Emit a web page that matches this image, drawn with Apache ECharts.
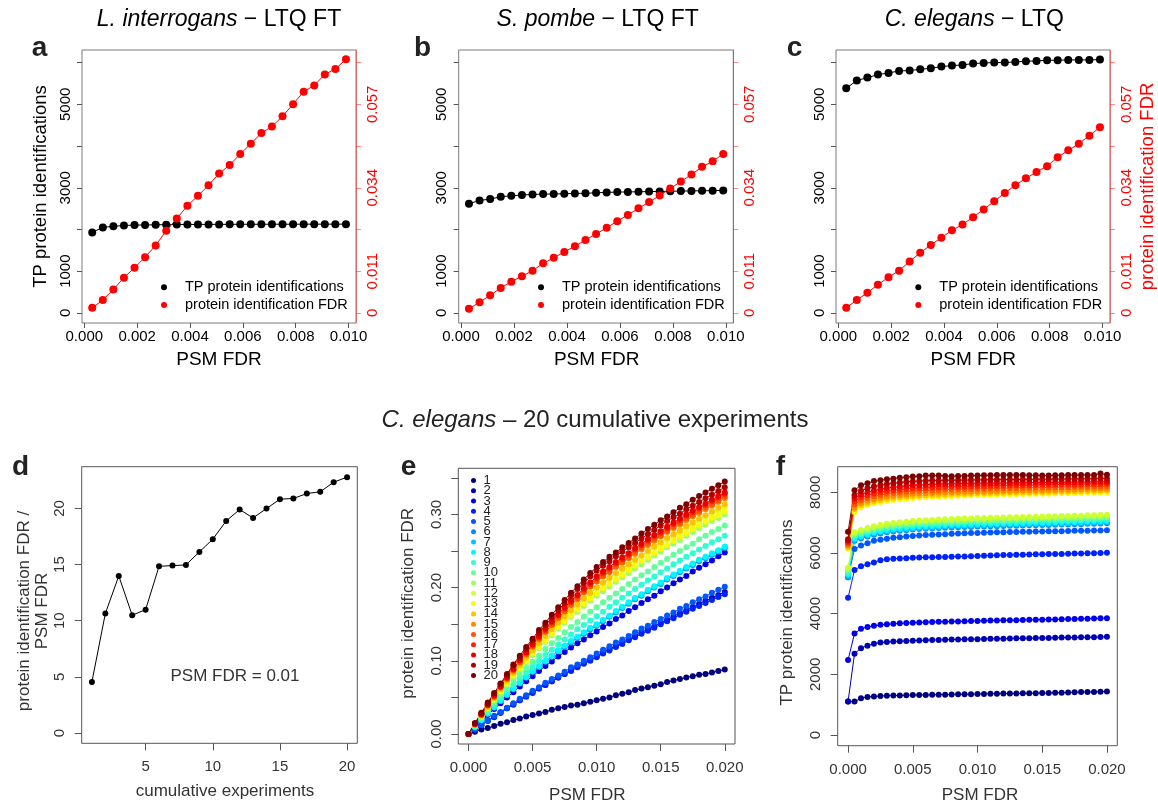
<!DOCTYPE html>
<html><head><meta charset="utf-8"><title>protein FDR</title>
<script src="https://cdn.jsdelivr.net/npm/echarts@6.0.0/dist/echarts.min.js"></script>
<style>html,body{margin:0;padding:0;background:#fff;}#chart{width:1158px;height:805px;}</style>
</head><body><div id="chart"></div>
<script>
// ================= DATA =================
const psmFdrTop = [0.0003,0.0007,0.0011,0.0015,0.0019,0.0023,0.0027,0.0031,0.0035,0.0039,0.0043,0.0047,0.0051,0.0055,0.0059,0.0063,0.0067,0.0071,0.0075,0.0079,0.0083,0.0087,0.0091,0.0095,0.0099];

const tpLinterrogans = [1930,2050,2075,2095,2105,2108,2112,2115,2118,2120,2120,2122,2122,2123,2124,2124,2125,2125,2126,2126,2127,2127,2128,2128,2128];
const fdrLinterrogans = [0.0014,0.0035,0.0064,0.0096,0.0123,0.0152,0.0184,0.0224,0.0257,0.0292,0.0319,0.0348,0.0380,0.0403,0.0433,0.0461,0.0490,0.0508,0.0536,0.0569,0.0603,0.0620,0.0650,0.0665,0.0691];

const tpSpombe = [2616,2696,2728,2784,2808,2824,2840,2848,2850,2856,2864,2866,2880,2888,2896,2900,2904,2908,2912,2916,2920,2924,2928,2930,2936];
const fdrSpombe = [0.0011,0.0029,0.0048,0.0068,0.0085,0.0100,0.0115,0.0135,0.0150,0.0166,0.0182,0.0199,0.0215,0.0232,0.0250,0.0267,0.0285,0.0302,0.0320,0.0339,0.0358,0.0377,0.0398,0.0413,0.0433];

const tpCelegans = [5384,5568,5640,5712,5752,5800,5808,5840,5864,5904,5928,5944,5976,5992,6000,6000,6016,6032,6040,6056,6056,6064,6064,6064,6072];
const fdrCelegans = [0.0014,0.0035,0.0055,0.0077,0.0097,0.0115,0.0140,0.0164,0.0185,0.0205,0.0225,0.0241,0.0261,0.0282,0.0304,0.0327,0.0348,0.0367,0.0384,0.0400,0.0424,0.0443,0.0461,0.0483,0.0506];

const cumulativeExperiments = [1,2,3,4,5,6,7,8,9,10,11,12,13,14,15,16,17,18,19,20];
const fdrRatioAt001 = [4.55,10.64,13.99,10.49,10.99,14.85,14.91,14.97,16.13,17.26,18.89,19.90,19.16,19.99,20.83,20.89,21.33,21.48,22.34,22.79];

const psmFdrCum = [0,0.0005,0.001,0.0015,0.002,0.0025,0.003,0.0035,0.004,0.0045,0.005,0.0055,0.006,0.0065,0.007,0.0075,0.008,0.0085,0.009,0.0095,0.01,0.0105,0.011,0.0115,0.012,0.0125,0.013,0.0135,0.014,0.0145,0.015,0.0155,0.016,0.0165,0.017,0.0175,0.018,0.0185,0.019,0.0195,0.02];
const experimentNames = ['1','2','3','4','5','6','7','8','9','10','11','12','13','14','15','16','17','18','19','20'];

const proteinFdrCum = [
 [0,.003,.006,.008,.011,.014,.016,.019,.021,.024,.026,.028,.030,.033,.035,.037,.039,.040,.042,.044,.046,.048,.050,.053,.055,.057,.060,.062,.064,.066,.068,.071,.073,.075,.077,.079,.081,.082,.084,.086,.088],
 [0,.006,.012,.018,.024,.029,.035,.041,.046,.052,.057,.062,.067,.072,.077,.082,.087,.092,.097,.101,.106,.111,.116,.120,.125,.129,.134,.139,.143,.147,.152,.156,.161,.165,.169,.173,.178,.182,.186,.190,.194],
 [0,.009,.017,.026,.034,.042,.050,.057,.065,.072,.079,.086,.093,.099,.106,.112,.118,.124,.129,.135,.140,.146,.151,.157,.162,.168,.173,.179,.184,.189,.195,.200,.206,.211,.216,.222,.227,.232,.237,.243,.248],
 [0,.006,.012,.018,.023,.029,.035,.040,.046,.051,.056,.062,.067,.072,.077,.082,.086,.091,.096,.100,.105,.110,.114,.119,.123,.128,.132,.137,.141,.145,.150,.154,.158,.163,.167,.171,.175,.179,.183,.187,.191],
 [0,.006,.012,.018,.025,.030,.036,.042,.048,.053,.059,.064,.070,.075,.080,.085,.091,.095,.100,.105,.110,.115,.120,.125,.129,.134,.139,.144,.148,.153,.157,.162,.166,.171,.175,.180,.184,.188,.193,.197,.201],
 [0,.009,.019,.028,.036,.045,.053,.061,.069,.077,.085,.092,.099,.106,.113,.119,.125,.131,.137,.143,.148,.154,.160,.166,.172,.178,.184,.189,.195,.200,.205,.211,.216,.221,.226,.231,.236,.240,.245,.249,.254],
 [0,.010,.019,.028,.037,.045,.054,.062,.070,.077,.085,.092,.099,.106,.113,.120,.126,.132,.138,.144,.149,.155,.161,.167,.173,.179,.185,.190,.196,.201,.206,.212,.217,.222,.227,.232,.237,.241,.246,.250,.255],
 [0,.010,.019,.028,.037,.046,.054,.062,.070,.078,.086,.093,.100,.107,.114,.121,.127,.133,.139,.145,.150,.156,.162,.168,.174,.180,.186,.191,.197,.202,.207,.213,.218,.223,.228,.233,.238,.242,.247,.251,.256],
 [0,.010,.020,.030,.040,.049,.058,.067,.075,.084,.092,.100,.108,.115,.122,.129,.136,.143,.149,.155,.161,.167,.174,.180,.186,.192,.198,.204,.210,.215,.221,.226,.232,.237,.242,.247,.252,.257,.262,.266,.271],
 [0,.011,.022,.032,.043,.053,.062,.072,.081,.090,.099,.107,.116,.124,.131,.139,.146,.153,.160,.167,.173,.180,.186,.192,.198,.205,.211,.217,.222,.228,.234,.239,.245,.250,.255,.260,.266,.271,.276,.280,.285],
 [0,.012,.024,.035,.046,.057,.068,.078,.088,.098,.108,.117,.126,.135,.144,.152,.160,.167,.175,.182,.189,.195,.202,.208,.214,.220,.226,.232,.238,.244,.249,.255,.260,.265,.271,.276,.281,.286,.291,.295,.300],
 [0,.013,.025,.037,.049,.060,.072,.083,.093,.104,.114,.124,.133,.142,.151,.160,.168,.176,.184,.192,.199,.205,.212,.218,.224,.230,.236,.242,.248,.254,.259,.265,.270,.275,.281,.286,.291,.296,.301,.305,.310],
 [0,.012,.024,.036,.047,.058,.069,.080,.090,.100,.110,.119,.128,.137,.146,.154,.162,.170,.178,.185,.192,.199,.205,.211,.217,.224,.230,.236,.241,.247,.253,.258,.264,.269,.274,.280,.285,.290,.295,.299,.304],
 [0,.013,.025,.037,.049,.061,.072,.083,.094,.104,.114,.124,.134,.143,.152,.161,.169,.177,.185,.193,.200,.207,.213,.220,.226,.232,.238,.244,.250,.256,.262,.268,.273,.278,.284,.289,.294,.299,.304,.309,.314],
 [0,.013,.026,.039,.051,.063,.075,.086,.097,.108,.119,.129,.139,.149,.158,.167,.176,.184,.193,.201,.208,.215,.221,.228,.234,.240,.246,.252,.258,.264,.270,.276,.281,.286,.292,.297,.302,.307,.312,.317,.322],
 [0,.013,.026,.039,.051,.064,.075,.087,.098,.109,.120,.130,.140,.149,.159,.168,.177,.185,.194,.202,.209,.216,.222,.229,.235,.241,.248,.254,.260,.266,.271,.277,.283,.288,.294,.299,.304,.309,.314,.319,.324],
 [0,.014,.027,.040,.052,.065,.077,.088,.100,.111,.122,.132,.142,.152,.162,.171,.180,.189,.197,.205,.213,.220,.226,.233,.239,.245,.252,.258,.264,.270,.275,.281,.287,.292,.298,.303,.308,.313,.318,.323,.328],
 [0,.014,.027,.040,.053,.065,.077,.089,.101,.112,.123,.134,.144,.154,.163,.173,.182,.190,.199,.207,.215,.222,.228,.235,.241,.247,.254,.260,.266,.272,.277,.283,.289,.294,.300,.305,.310,.315,.320,.325,.330],
 [0,.014,.028,.041,.055,.068,.080,.093,.104,.116,.128,.138,.149,.159,.169,.179,.189,.198,.206,.215,.223,.230,.236,.243,.249,.255,.261,.267,.273,.279,.285,.291,.296,.301,.307,.312,.317,.322,.327,.332,.337],
 [0,.015,.029,.043,.056,.069,.082,.095,.107,.119,.130,.142,.152,.163,.173,.183,.193,.202,.211,.220,.228,.235,.242,.248,.255,.261,.267,.274,.280,.286,.292,.297,.303,.309,.314,.320,.325,.330,.335,.340,.345]
];

const tpCum = [
 [1100,1100,1210,1255,1265,1285,1295,1300,1305,1310,1315,1320,1320,1325,1330,1330,1335,1340,1345,1345,1350,1355,1360,1360,1365,1365,1370,1375,1375,1380,1385,1385,1390,1395,1400,1410,1415,1420,1420,1425,1430],
 [1100,2680,2860,2945,3010,3045,3065,3080,3090,3100,3110,3115,3125,3130,3135,3140,3145,3150,3155,3160,3160,3165,3170,3175,3175,3180,3185,3185,3190,3195,3200,3200,3205,3210,3210,3215,3220,3220,3225,3230,3240],
 [2470,3345,3500,3560,3600,3630,3650,3665,3680,3690,3700,3710,3715,3725,3730,3735,3740,3745,3750,3755,3760,3765,3770,3775,3780,3780,3785,3790,3795,3800,3800,3805,3810,3815,3820,3825,3830,3835,3840,3845,3850],
 [4520,5440,5560,5630,5690,5760,5790,5810,5820,5830,5840,5850,5855,5860,5865,5870,5875,5880,5885,5890,5900,5910,5920,5925,5930,5935,5940,5945,5950,5955,5960,5965,5965,5970,5975,5980,5985,5990,5995,6000,6010],
 [5200,6130,6250,6320,6400,6440,6470,6500,6520,6545,6560,6575,6590,6600,6610,6620,6630,6640,6650,6655,6660,6670,6675,6680,6685,6690,6695,6700,6700,6705,6710,6715,6720,6720,6725,6730,6730,6735,6740,6745,6750],
 [5200,6400,6480,6540,6600,6640,6680,6710,6730,6750,6770,6790,6800,6810,6820,6830,6840,6850,6855,6860,6870,6875,6880,6885,6890,6895,6900,6905,6910,6915,6920,6925,6930,6935,6940,6945,6950,6960,6965,6970,6980],
 [5250,6440,6520,6580,6640,6680,6720,6750,6770,6790,6810,6830,6840,6850,6860,6870,6880,6890,6895,6900,6910,6915,6920,6925,6930,6935,6940,6945,6950,6955,6960,6965,6970,6975,6980,6985,6990,7000,7005,7010,7020],
 [5300,6480,6560,6620,6680,6720,6760,6790,6810,6830,6850,6870,6880,6890,6900,6910,6920,6930,6935,6940,6950,6955,6960,6965,6970,6975,6980,6985,6990,6995,7000,7005,7010,7015,7020,7025,7030,7040,7045,7050,7060],
 [5350,6540,6620,6680,6740,6780,6820,6850,6870,6890,6910,6930,6940,6950,6960,6970,6980,6990,6995,7000,7010,7015,7020,7025,7030,7035,7040,7045,7050,7055,7060,7065,7070,7075,7080,7085,7090,7100,7105,7110,7120],
 [5420,6590,6670,6730,6790,6830,6870,6900,6920,6940,6960,6980,6990,7000,7010,7020,7030,7040,7045,7050,7060,7065,7070,7075,7080,7085,7090,7095,7100,7105,7110,7115,7120,7125,7130,7135,7140,7150,7155,7160,7170],
 [5480,6640,6720,6780,6840,6880,6920,6950,6970,6990,7010,7030,7040,7050,7060,7070,7080,7090,7095,7100,7110,7115,7120,7125,7130,7135,7140,7145,7150,7155,7160,7165,7170,7175,7180,7185,7190,7200,7205,7210,7220],
 [5520,6680,6760,6820,6880,6920,6960,6990,7010,7030,7050,7070,7080,7090,7100,7110,7120,7130,7135,7140,7150,7155,7160,7165,7170,7175,7180,7185,7190,7195,7200,7205,7210,7215,7220,7225,7230,7240,7245,7250,7260],
 [6150,7350,7500,7580,7640,7680,7720,7750,7770,7790,7810,7830,7840,7850,7860,7870,7880,7890,7895,7900,7905,7910,7915,7920,7925,7930,7935,7940,7945,7950,7950,7955,7960,7965,7970,7975,7980,7985,7990,7995,8000],
 [6200,7450,7580,7650,7710,7750,7790,7820,7840,7860,7880,7890,7900,7910,7920,7930,7940,7950,7955,7960,7965,7970,7975,7980,7985,7990,7995,8000,8005,8010,8010,8015,8020,8025,8030,8035,8040,8045,8050,8055,8060],
 [6250,7500,7650,7720,7780,7820,7860,7890,7910,7930,7950,7960,7970,7980,7990,8000,8005,8010,8015,8020,8025,8030,8035,8040,8045,8050,8055,8060,8065,8070,8070,8075,8080,8085,8090,8095,8100,8105,8110,8115,8120],
 [6300,7600,7740,7810,7870,7910,7950,7980,8000,8020,8040,8050,8060,8070,8080,8090,8095,8100,8105,8110,8115,8120,8125,8130,8135,8140,8145,8150,8150,8155,8160,8160,8165,8170,8175,8180,8180,8185,8190,8195,8200],
 [6350,7700,7830,7900,7960,8000,8040,8070,8090,8110,8130,8140,8150,8160,8170,8180,8185,8190,8195,8200,8205,8210,8215,8220,8220,8225,8230,8235,8235,8240,8245,8245,8250,8255,8260,8260,8265,8270,8270,8275,8280],
 [6400,7800,7930,8000,8060,8100,8140,8170,8190,8210,8230,8240,8250,8260,8270,8275,8280,8285,8290,8290,8295,8300,8300,8305,8305,8310,8315,8315,8320,8320,8325,8325,8330,8330,8335,8335,8340,8340,8345,8345,8350],
 [6450,7900,8050,8130,8190,8230,8270,8300,8320,8340,8360,8370,8380,8385,8390,8395,8400,8400,8405,8405,8410,8410,8415,8415,8420,8420,8420,8425,8425,8430,8430,8430,8435,8435,8440,8440,8440,8445,8445,8460,8450],
 [6700,8070,8230,8300,8370,8400,8430,8450,8480,8500,8520,8530,8550,8550,8550,8540,8530,8540,8540,8550,8550,8560,8560,8570,8570,8570,8570,8570,8560,8560,8550,8550,8560,8560,8570,8570,8570,8570,8570,8620,8580]
];

// tick positions / labels
const topXTicks = [0,0.002,0.004,0.006,0.008,0.010];
const topYTicks = [0,1000,2000,3000,4000,5000,6000];
const topYLabels = [0,1000,3000,5000];
const dXTicks = [5,10,15,20];
const dYTicks = [0,5,10,15,20];
const cumXTicks = [0,0.005,0.010,0.015,0.020];
const eYTicks = [0,0.05,0.10,0.15,0.20,0.25,0.30,0.35];
const eYLabels = [0,0.10,0.20,0.30];
const fYTicks = [0,2000,4000,6000,8000];

// ================= STYLE / LAYOUT =================
const FONT = "'Liberation Sans', Arial, Helvetica, sans-serif";
const fdrPerCount = 1.137e-5; // right axis scale relative to left axis
const rightTicks = topYTicks.map(v => v * fdrPerCount);
const rightLabels = topYLabels.map(v => v * fdrPerCount);

function jetColors(n) {
  const stops = ['#00007F','#0000FF','#007FFF','#00FFFF','#7FFF7F','#FFFF00','#FF7F00','#FF0000','#7F0000']
    .map(h => [parseInt(h.slice(1,3),16), parseInt(h.slice(3,5),16), parseInt(h.slice(5,7),16)]);
  const out = [];
  for (let i = 0; i < n; i++) {
    const p = i * (stops.length - 1) / (n - 1);
    const k = Math.min(Math.floor(p), stops.length - 2);
    const t = p - k;
    const c = stops[k].map((v, j) => Math.round(v + (stops[k+1][j] - v) * t));
    out.push('rgb(' + c.join(',') + ')');
  }
  return out;
}
const jet = jetColors(20);

const gridBoxes = [
  {left:82, top:50, width:274, height:273},
  {left:458.7, top:50, width:274.6, height:273},
  {left:836, top:50, width:274, height:273},
  {left:81.7, top:466.7, width:275.6, height:276.6},
  {left:458.3, top:468.3, width:276.7, height:275.7},
  {left:837.7, top:466.7, width:279.6, height:279}
];

const UP = {tickLen:5, tickColor:'#555', text:'#000', fs:15, xMargin:6, yMargin:9};
const LO = {tickLen:7, tickColor:'#555', text:'#333', fs:15, xMargin:16, yMargin:14};

function xAx(g, min, max, ticks, labels, fmt, st) {
  return {type:'value', gridIndex:g, min:min, max:max, position:'bottom',
    axisLine:{show:false, onZero:false}, splitLine:{show:false},
    axisTick:{show:true, customValues:ticks, length:st.tickLen, lineStyle:{color:st.tickColor, width:1}},
    axisLabel:{show:true, customValues:labels, formatter:fmt, margin:st.xMargin, color:st.text,
      fontSize:st.fs, fontFamily:FONT, hideOverlap:false}};
}
function yAx(g, min, max, ticks, labels, fmt, st, pos, extra) {
  const a = {type:'value', gridIndex:g, min:min, max:max, position:pos || 'left',
    axisLine:{show:false, onZero:false}, splitLine:{show:false},
    axisTick:{show:true, customValues:ticks, length:st.tickLen, lineStyle:{color:st.tickColor, width:1}},
    axisLabel:{show:true, customValues:labels, formatter:fmt, rotate:90, margin:st.yMargin, color:st.text,
      fontSize:st.fs, fontFamily:FONT, hideOverlap:false}};
  if (extra) extra(a);
  return a;
}
const fmt3 = v => v.toFixed(3);
const fmtInt = v => String(Math.round(v));
const fmtRight = v => (Math.abs(v) < 1e-12 ? '0' : v.toFixed(3));
const redAxis = a => {
  a.axisLine = {show:true, onZero:false, lineStyle:{color:'rgba(255,0,0,0.4)', width:1}};
  a.axisTick.lineStyle.color = 'rgba(255,0,0,0.45)';
  a.axisLabel.color = '#ff0000';
};

const xAxes = [];
const yAxes = [];
for (let g = 0; g < 3; g++) {
  xAxes.push(xAx(g, -0.000087, 0.01028, topXTicks, topXTicks, fmt3, UP));
  yAxes.push(yAx(g, -242, 6302, topYTicks, topYLabels, fmtInt, UP, 'left'));
  yAxes.push(yAx(g, -242 * fdrPerCount, 6302 * fdrPerCount, rightTicks, rightLabels, fmtRight, UP, 'right', redAxis));
}
xAxes.push(xAx(3, 0.24, 20.76, dXTicks, dXTicks, fmtInt, LO));
yAxes.push(yAx(3, -0.916, 23.72, dYTicks, dYTicks, fmtInt, LO, 'left'));
xAxes.push(xAx(4, -0.0008, 0.0208, cumXTicks, cumXTicks, fmt3, LO));
yAxes.push(yAx(4, -0.0137, 0.363, eYTicks, eYLabels, v => v.toFixed(2), LO, 'left'));
xAxes.push(xAx(5, -0.0008, 0.0208, cumXTicks, cumXTicks, fmt3, Object.assign({}, LO, {xMargin:17})));
yAxes.push(yAx(5, -353, 8844, fYTicks, fYTicks, fmtInt, LO, 'left'));

const series = [];
function pairSeries(xs, ys) { return xs.map((x, i) => [x, ys[i]]); }
function lineS(name, xi, yi, data, color, size, z) {
  return {type:'line', name:name, xAxisIndex:xi, yAxisIndex:yi, data:data,
    symbol:'circle', symbolSize:size, showSymbol:true, showAllSymbol:true,
    lineStyle:{color:color, width:1}, itemStyle:{color:color, borderWidth:0},
    emphasis:{disabled:true}, silent:true, animation:false, z:z || 2};
}
const topSets = [[tpLinterrogans, fdrLinterrogans],[tpSpombe, fdrSpombe],[tpCelegans, fdrCelegans]];
topSets.forEach((s, g) => {
  series.push(lineS('TP protein identifications', g, 2*g, pairSeries(psmFdrTop, s[0]), '#000000', 8));
  series.push(lineS('protein identification FDR', g, 2*g+1, pairSeries(psmFdrTop, s[1]), '#ff0000', 8));
});
series.push(lineS('ratio', 3, 6, pairSeries(cumulativeExperiments, fdrRatioAt001), '#000000', 6));
proteinFdrCum.forEach((ys, i) => series.push(lineS(experimentNames[i], 4, 7, pairSeries(psmFdrCum, ys), jet[i], 6)));
tpCum.forEach((ys, i) => series.push(lineS(experimentNames[i], 5, 8, pairSeries(psmFdrCum, ys), jet[i], 6)));

function topLegend(left) {
  return {show:true, orient:'vertical', left:left, top:279.3, padding:0, itemGap:1.7,
    icon:'circle', itemWidth:32, itemHeight:6, selectedMode:false,
    data:['TP protein identifications','protein identification FDR'],
    textStyle:{fontSize:14.5, color:'#000', lineHeight:16, fontFamily:FONT}};
}
const legends = [topLegend(161), topLegend(538), topLegend(915.3),
  {show:true, orient:'vertical', left:471, top:474, padding:0, itemGap:-2.74,
   icon:'circle', itemWidth:10, itemHeight:5, selectedMode:false, data:experimentNames,
   textStyle:{fontSize:13, color:'#222', lineHeight:10, fontFamily:FONT}}];

function txt(x, y, text, size, opts) {
  opts = opts || {};
  return {type:'text', x:x, y:y, rotation:opts.rot || 0, silent:true, z:10,
    style:{text:text, fill:opts.color || '#000', fontSize:size, fontFamily:FONT,
      fontWeight:opts.weight || 'normal', align:'center', verticalAlign:'middle',
      rich:{i:{fontStyle:'italic', fontSize:size, fontFamily:FONT, fill:opts.color || '#000'},
            n:{fontSize:size, fontFamily:FONT, fill:opts.color || '#000'}}}};
}
const R90 = Math.PI / 2;
const graphics = [
  txt(219, 19.5, '{i|L. interrogans}{n| − LTQ FT}', 23),
  txt(597.7, 19.5, '{i|S. pombe}{n| − LTQ FT}', 23),
  txt(974.3, 19.5, '{i|C. elegans}{n| − LTQ}', 23),
  txt(595, 420, '{i|C. elegans}{n| – 20 cumulative experiments}', 24, {color:'#222'}),
  txt(39.5, 48.6, 'a', 28, {weight:'bold', color:'#222'}),
  txt(422.5, 48.6, 'b', 28, {weight:'bold', color:'#222'}),
  txt(794.5, 48.6, 'c', 28, {weight:'bold', color:'#222'}),
  txt(20.5, 467, 'd', 28, {weight:'bold', color:'#222'}),
  txt(408.5, 467, 'e', 28, {weight:'bold', color:'#222'}),
  txt(780.5, 467, 'f', 28, {weight:'bold', color:'#222'}),
  txt(40.5, 186.5, 'TP protein identifications', 18.5, {rot:R90}),
  txt(1148, 186.5, 'protein identification FDR', 18.5, {rot:R90, color:'#ff0000'}),
  txt(219, 359.3, 'PSM FDR', 19),
  txt(596.7, 359.3, 'PSM FDR', 19),
  txt(973.3, 359.3, 'PSM FDR', 19),
  txt(24, 611, 'protein identification FDR /', 17, {rot:R90, color:'#333'}),
  txt(42.5, 611, 'PSM FDR', 17, {rot:R90, color:'#333'}),
  txt(225, 791.7, 'cumulative experiments', 17, {color:'#333'}),
  txt(235, 676.7, 'PSM FDR = 0.01', 17, {color:'#333'}),
  txt(408.3, 603.3, 'protein identification FDR', 17, {rot:R90, color:'#333'}),
  txt(587.3, 795.5, 'PSM FDR', 17, {color:'#333'}),
  txt(787, 612.5, 'TP protein identifications', 17, {rot:R90, color:'#333'}),
  txt(980, 795.5, 'PSM FDR', 17, {color:'#333'})
];

const chart = echarts.init(document.getElementById('chart'), null, {renderer:'canvas', width:1158, height:805});
chart.setOption({
  animation:false,
  backgroundColor:'#ffffff',
  textStyle:{fontFamily:FONT},
  grid: gridBoxes.map((b, i) => Object.assign({show:true, borderColor: i < 3 ? '#7a7a7a' : '#555555',
    borderWidth:1, backgroundColor:'rgba(0,0,0,0)', containLabel:false, outerBoundsMode:'none'}, b)),
  xAxis: xAxes,
  yAxis: yAxes,
  legend: legends,
  series: series,
  graphic: graphics
});
</script>
</body></html>
